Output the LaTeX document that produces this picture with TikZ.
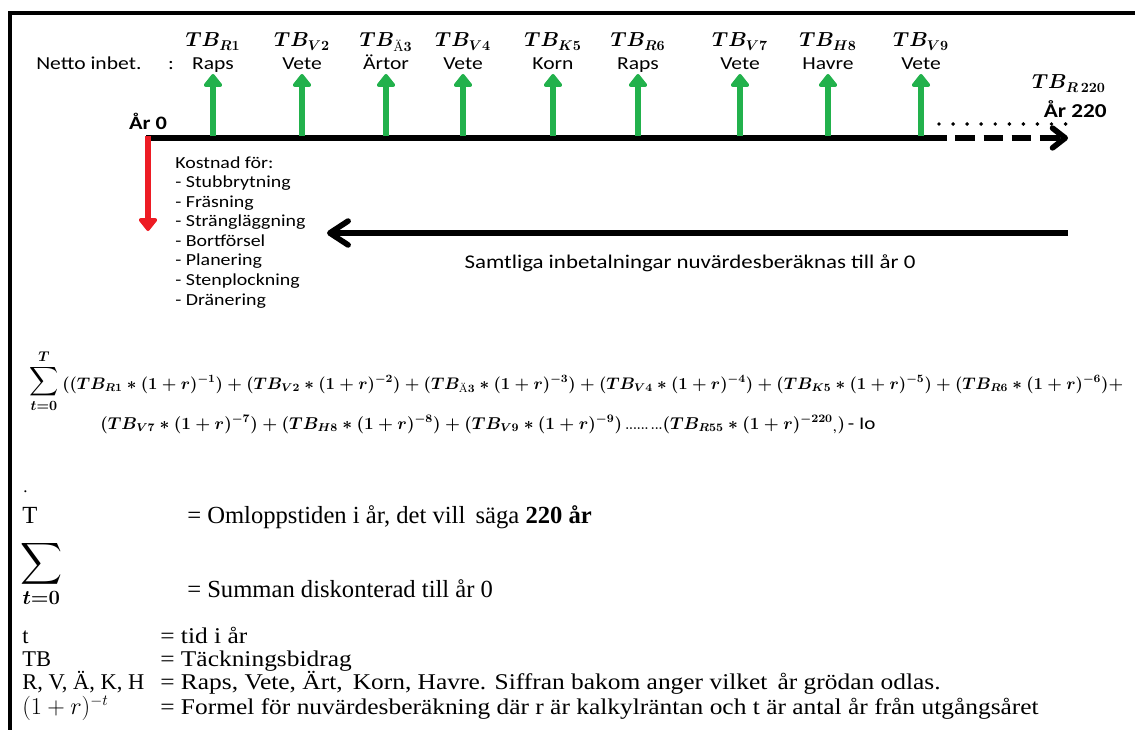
\documentclass[tikz,border=0pt]{standalone}
\usepackage{amsmath,amssymb}
\usepackage{graphicx}
\usepackage{fontspec}
\usepackage{tikz}
\usetikzlibrary{arrows.meta}
\newfontfamily\calib[FakeStretch=1.18]{Carlito}
\newfontfamily\tnr{Liberation Serif}
\newfontfamily\tnrwide[FakeStretch=1.13]{Liberation Serif}
\definecolor{gaingreen}{RGB}{34,177,76}
\definecolor{costred}{RGB}{237,28,36}
\newcommand{\dterm}[2]{(TB_{#1}\ast(1+r)^{-#2})}

\begin{document}
\begin{tikzpicture}[
        x=0.025cm, y=-0.025cm,
        frame/.style={line width=2.8pt},
        timeline/.style={line width=4pt},
        gain/.style={gaingreen, line width=4.8pt, -{Triangle[round, length=10pt, width=15pt]}},
        cost/.style={costred, line width=4.6pt, -{Triangle[round, length=10pt, width=15pt]}},
        back/.style={line width=4pt, -{Straight Barb[round, length=13pt, width=17pt]}},
        lab/.style={font=\calib\fontsize{13}{14}\selectfont, inner sep=0pt, anchor=base},
        yearlab/.style={lab, font=\calib\bfseries\fontsize{13.5}{14}\selectfont},
        tblab/.style={font=\fontsize{14}{15}\selectfont\boldmath, inner sep=0pt, anchor=base},
        formula/.style={font=\fontsize{12}{16}\selectfont\boldmath, inner sep=0pt, anchor=base west},
        legend/.style={font=\tnr\fontsize{17.5}{19}\selectfont, inner sep=0pt, anchor=base west},
        legendsym/.style={legend, font=\tnr\fontsize{16}{17}\selectfont},
        legendsm/.style={legend, font=\tnrwide\fontsize{16}{17}\selectfont}
    ]
    \useasboundingbox (0,0) rectangle (1135,729);
    % Frame
    \draw[frame] (10,731) -- (10,13) -- (1135,13);

    % Time line
    \coordinate (start) at (146,138);
    \coordinate (solidend) at (947,138);
    \coordinate (end) at (1068,138);
    \draw[timeline] (start) -- (solidend);
    \draw[timeline, dash pattern=on 14pt off 6pt, dash phase=14pt,
          -{Straight Barb[round, length=9pt, width=14pt]}] (solidend) -- (end);
    \draw[line width=2.8pt, line cap=round, dash pattern=on 0pt off 10pt] (939,124) -- (1066,124);

    \node[lab, anchor=base west] (netto) at (36,69) {Netto inbet.\hspace{19pt}:};
    \node[yearlab] (year0) at (148,129) {År 0};

    % Crops per year
    \foreach \x/\sub/\crop [count=\i] in {213/R1/Raps, 302/V2/Vete, 386/\text{Ä}3/Ärtor, 463/V4/Vete,
            553/K5/Korn, 638/R6/Raps, 740/V7/Vete, 828/H8/Havre, 921/V9/Vete}{
        \node[tblab] (tb\i) at (\x,47) {$TB_{\sub}$};
        \node[lab] (crop\i) at (\x,69) {\crop};
        \coordinate (foot\i) at (\x,136);
        \coordinate (tip\i) at (\x,74);
        \draw[gain] (foot\i) -- (tip\i);
    }
    \node[tblab, anchor=base east] (tblast) at (1106,89) {$TB_{R\,220}$};
    \node[yearlab, anchor=base east, font=\calib\bfseries\fontsize{14}{15}\selectfont] (yearlast) at (1107,117) {År 220};

    % ---- Costs at year 0 ----
    \coordinate (coststart) at (148,136);
    \coordinate (costtip) at (148,231);
    \draw[cost] (coststart) -- (costtip);
    \node[lab, anchor=base west, align=left, font=\calib\fontsize{12}{13.9}\selectfont] (costs) at (175,305)
        {Kostnad för:\\- Stubbrytning\\- Fräsning\\- Strängläggning\\- Bortförsel\\- Planering\\- Stenplockning\\- Dränering};

    % ---- Discounting back ----
    \coordinate (backstart) at (1068,233);
    \coordinate (backtip) at (327,233);
    \draw[back] (backstart) -- (backtip);
    \node[lab, font=\calib\fontsize{13.8}{15}\selectfont] (discount) at (690,268) {Samtliga inbetalningar nuvärdesberäknas till år 0};

    % ---- Formula ----
    \node[formula, anchor=center, font=\fontsize{14.4}{16}\selectfont\boldmath] (sumtop) at (44,381) {$\displaystyle\sum_{t=0}^{T}$};
    \node[formula] (line1) at (62,389) {\scalebox{0.993}{$((TB_{R1}\ast(1+r)^{-1}) + \dterm{V2}{2} + \dterm{\text{Ä}3}{3} + \dterm{V4}{4} + \dterm{K5}{5} + \dterm{R6}{6} +$}};
    \node[formula] (line2) at (100,429) {\scalebox{1.015}{$\dterm{V7}{7} + \dterm{H8}{8} + \dterm{V9}{9}\, {\scriptstyle\ldots\ldots\,\ldots}(TB_{R55}\ast(1+r)^{-220}{}_{,})$\,{\calib\fontsize{12.5}{14}\selectfont- Io}}};

    % ---- Legend ----
    \node[legend, font=\tnr\fontsize{12}{13}\selectfont] (dot) at (23,492) {.};
    \node[legend] (symT) at (22,523) {T};
    \node[legend] (txtT) at (187,523) {= Omloppstiden i år, det vill\, säga \textbf{220 år}};
    \node[legend, anchor=north west, font=\fontsize{20.74}{22}\selectfont\boldmath] (symsum) at (20,540) {$\displaystyle\sum_{t=0}$};
    \node[legend] (txtsum) at (187,597) {= Summan diskonterad till år 0};
    \foreach \y/\sym/\txt [count=\i] in {643/t/= tid i år, 666/TB/= Täckningsbidrag,
            689/{R, V, Ä, K, H}/{= Raps, Vete, Ärt,\, Korn, Havre. Siffran bakom anger vilket\, år grödan odlas.},
            714/{$(1+r)^{-t}$}/= Formel för nuvärdesberäkning där r är kalkylräntan och t är antal år från utgångsåret}{
        \node[legendsym] (sym\i) at (22,\y) {\sym};
        \node[legendsm] (txt\i) at (160,\y) {\txt};
    }
\end{tikzpicture}
\end{document}
